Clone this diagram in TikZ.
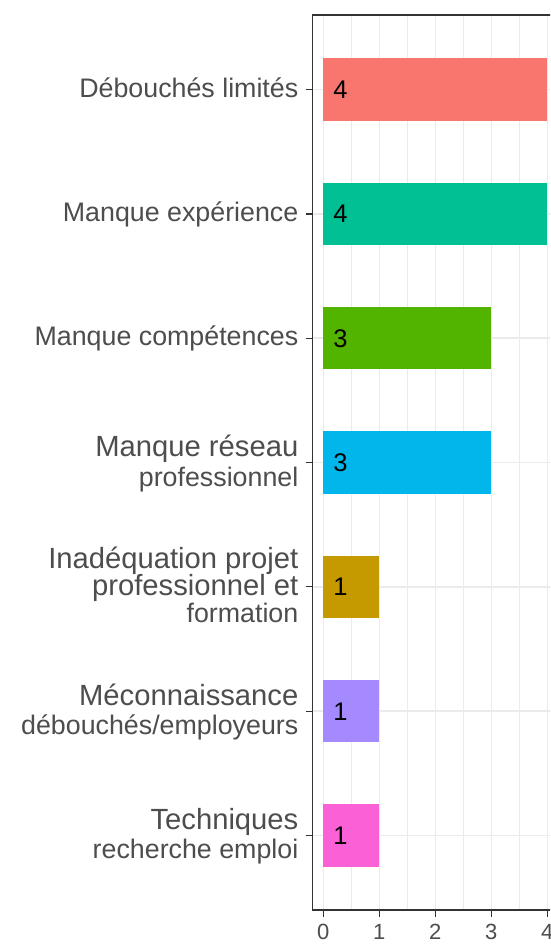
\documentclass[tikz,border=0pt]{standalone}
\usepackage{fontspec}
\setmainfont{Liberation Sans}
\definecolor{c1}{HTML}{F8766D}
\definecolor{c2}{HTML}{00C094}
\definecolor{c3}{HTML}{53B400}
\definecolor{c4}{HTML}{00B6EB}
\definecolor{c5}{HTML}{C49A00}
\definecolor{c6}{HTML}{A58AFF}
\definecolor{c7}{HTML}{FB61D7}
\definecolor{txtgray}{HTML}{4D4D4D}
\definecolor{gridgray}{HTML}{EBEBEB}
\definecolor{axisgray}{HTML}{333333}
\begin{document}
\begin{tikzpicture}[x=1pt,y=-1pt,
  lab/.style={anchor=base east, inner sep=0pt, text=txtgray, font=\fontsize{26.8}{30}\selectfont},
  labbig/.style={anchor=base east, inner sep=0pt, text=txtgray, font=\fontsize{29.2}{32}\selectfont},
  val/.style={anchor=base, inner sep=0pt, text=black, font=\fontsize{25.5}{28}\selectfont},
  barbox/.style={anchor=west, inner sep=0pt, outer sep=0pt, minimum height=62.2pt, draw=none},
  tickline/.style={draw=axisgray, line width=1.2pt},
  tlab/.style={anchor=base, inner sep=0pt, text=txtgray, font=\fontsize{22}{24}\selectfont},
  majorgrid/.style={draw=gridgray, line width=1.6pt},
  minorgrid/.style={draw=gridgray, line width=0.8pt}]
\clip (0,0) rectangle (550,944);
\fill[white] (0,0) rectangle (550,944);
% grid
\foreach \gx in {351.3,407.3,463.3,519.3} \draw[minorgrid] (\gx,15) -- (\gx,910);
\foreach \gx in {323.3,379.3,435.3,491.3,547.3} \draw[majorgrid] (\gx,15) -- (\gx,910);
\foreach \gy in {89.6,213.9,338.2,462.5,586.8,711.1,835.4} \draw[majorgrid] (312.7,\gy) -- (558.5,\gy);
% bars
\node[barbox, fill=c1, minimum width=224pt] (b1) at (323.3,89.6) {};
\node[barbox, fill=c2, minimum width=224pt] (b2) at (323.3,213.9) {};
\node[barbox, fill=c3, minimum width=168pt] (b3) at (323.3,338.2) {};
\node[barbox, fill=c4, minimum width=168pt] (b4) at (323.3,462.5) {};
\node[barbox, fill=c5, minimum width=56pt] (b5) at (323.3,586.8) {};
\node[barbox, fill=c6, minimum width=56pt] (b6) at (323.3,711.1) {};
\node[barbox, fill=c7, minimum width=56pt] (b7) at (323.3,835.4) {};
% values
\node[val] (v1) at (340.5,98.6) {4};
\node[val] (v2) at (340.5,222.9) {4};
\node[val] (v3) at (340.5,347.2) {3};
\node[val] (v4) at (340.5,471.5) {3};
\node[val] (v5) at (340.5,595.8) {1};
\node[val] (v6) at (340.5,720.1) {1};
\node[val] (v7) at (340.5,844.4) {1};
% panel border
\draw[draw=axisgray, line width=1.4pt] (312.7,15) rectangle (558.5,910);
% y ticks
\foreach \gy in {89.6,213.9,338.2,462.5,586.8,711.1,835.4} \draw[tickline] (305.5,\gy) -- (312.7,\gy);
% x ticks
\foreach \gx in {323.3,379.3,435.3,491.3,547.3} \draw[tickline] (\gx,910) -- (\gx,917);
\node[tlab] (t0) at (323.3,939) {0};
\node[tlab] (t1) at (379.3,939) {1};
\node[tlab] (t2) at (435.3,939) {2};
\node[tlab] (t3) at (491.3,939) {3};
\node[tlab] (t4) at (547.3,939) {4};
% category labels
\node[lab] (l1) at (298.5,97.3) {Débouchés limités};
\node[lab] (l2) at (298.5,221.6) {Manque expérience};
\node[lab] (l3) at (298.5,345.9) {Manque compétences};
\node[labbig] (l4a) at (298.5,456.5) {Manque réseau};
\node[lab] (l4b) at (298.5,486) {professionnel};
\node[labbig] (l5a) at (298.5,568.5) {Inadéquation projet};
\node[labbig] (l5b) at (298.5,595.5) {professionnel et};
\node[lab] (l5c) at (298.5,622.5) {formation};
\node[labbig] (l6a) at (298.5,705.5) {Méconnaissance};
\node[lab] (l6b) at (298.5,734) {débouchés/employeurs};
\node[labbig] (l7a) at (298.5,829) {Techniques};
\node[lab] (l7b) at (298.5,858.5) {recherche emploi};
\end{tikzpicture}
\end{document}
